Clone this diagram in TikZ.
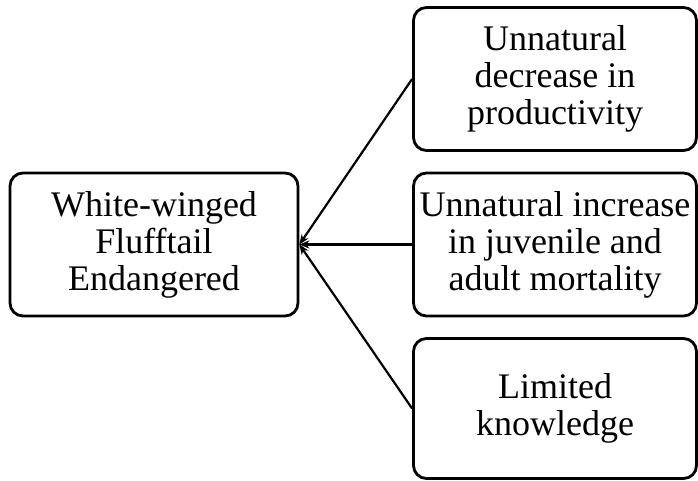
\documentclass[tikz,border=0pt]{standalone}
\usepackage{fontspec}
\setmainfont{Liberation Serif}
\usetikzlibrary{arrows.meta}
\begin{document}
\begin{tikzpicture}[x=1pt,y=-1pt,
  box/.style={draw, line width=2.8pt, rounded corners=13pt, align=center,
    inner sep=0pt, font=\fontsize{36}{37}\selectfont},
  conn/.style={line width=2.2pt, -{Stealth[length=10pt,width=8pt]}}]
\useasboundingbox (0,0) rectangle (698,480);
\node[box, minimum width=288pt, minimum height=143pt] (goal) at (154,244.5) {White-winged\\Flufftail\\Endangered};
\node[box, minimum width=283pt, minimum height=143pt] (a) at (555,79) {Unnatural\\decrease in\\productivity};
\node[box, minimum width=283pt, minimum height=143pt] (b) at (555,244.5) {Unnatural increase\\in juvenile and\\adult mortality};
\node[box, minimum width=283pt, minimum height=140pt] (c) at (555,408.5) {Limited\\knowledge};
\draw[conn] (a.west) -- (goal.east);
\draw[conn] (b.west) -- (goal.east);
\draw[conn] (c.west) -- (goal.east);
\end{tikzpicture}
\end{document}
